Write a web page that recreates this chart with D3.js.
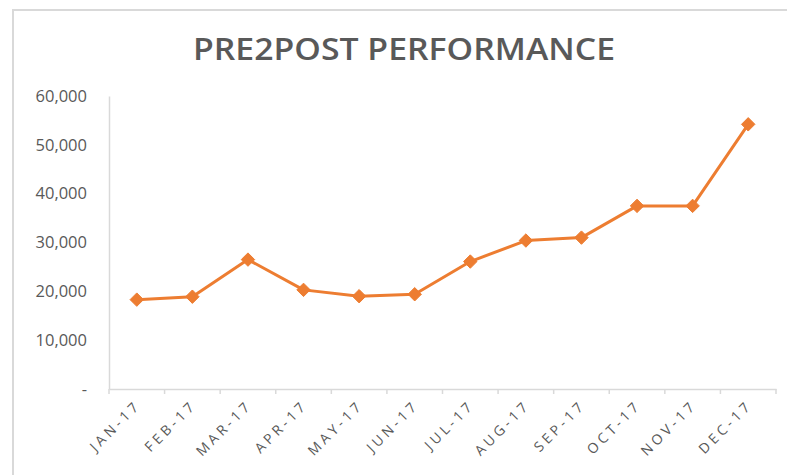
<!DOCTYPE html>
<html>
<head>
<meta charset="utf-8">
<script src="https://cdn.jsdelivr.net/npm/d3@7/dist/d3.min.js"></script>
<style>
  html, body { margin: 0; padding: 0; background: #fff; }
  svg { display: block; }
</style>
</head>
<body>
<svg id="chart" width="787" height="475"></svg>
<script>
const title = "PRE2POST PERFORMANCE";
const months = ["JAN-17","FEB-17","MAR-17","APR-17","MAY-17","JUN-17","JUL-17","AUG-17","SEP-17","OCT-17","NOV-17","DEC-17"];
const values = [18300, 18900, 26500, 20300, 19000, 19400, 26100, 30400, 31000, 37500, 37500, 54200];
const yTicks = [0, 10000, 20000, 30000, 40000, 50000, 60000];

(function () {
const svg = d3.select("#chart");
const W = 787, H = 475;
const mLeft = 109, mRight = 776, mTop = 96, mBottom = 389;
const textColor = "#595959";
const lineColor = "#ED7D31";

// chart frame
svg.append("path")
  .attr("d", `M13,${H+5} L13,10 L${W+5},10`)
  .attr("fill", "none").attr("stroke", "#d9d9d9").attr("stroke-width", 2);

// title
svg.append("text")
  .attr("x", 193).attr("y", 60)
  .attr("text-anchor", "start")
  .attr("font-family", "'Open Sans', sans-serif")
  .attr("font-weight", 600)
  .attr("font-size", 30)
  .attr("textLength", 422)
  .attr("lengthAdjust", "spacingAndGlyphs")
  .attr("fill", textColor)
  .text(title);

const x = d3.scaleBand().domain(months).range([mLeft, mRight]).paddingInner(0).paddingOuter(0);
const y = d3.scaleLinear().domain([0, 60000]).range([mBottom, mTop]);

// y axis
const yAxis = svg.append("g").attr("transform", `translate(${mLeft},0)`)
  .call(d3.axisLeft(y).tickValues(yTicks).tickSize(0).tickPadding(22)
    .tickFormat(d => d === 0 ? "-" : d3.format(",")(d)));
yAxis.select(".domain").attr("stroke", "#d9d9d9").attr("stroke-width", 1.5);
yAxis.selectAll("text")
  .attr("font-family", "'Open Sans', sans-serif")
  .attr("font-size", 16.5)
  .attr("fill", textColor);

// x axis
const xAxis = svg.append("g").attr("transform", `translate(0,${mBottom})`)
  .call(d3.axisBottom(x).tickSize(0).tickFormat(""));
xAxis.select(".domain").attr("stroke", "#d9d9d9").attr("stroke-width", 1.5);
const bounds = months.map(m => x(m)).concat([x(months[months.length-1]) + x.bandwidth()]);
xAxis.selectAll("line.bt").data(bounds).enter().append("line")
  .attr("class", "bt")
  .attr("x1", d => d).attr("x2", d => d)
  .attr("y1", 0).attr("y2", 5)
  .attr("stroke", "#d9d9d9").attr("stroke-width", 1.5);

// x labels
svg.append("g").selectAll("text").data(months).enter().append("text")
  .attr("transform", d => `translate(${x(d) + x.bandwidth()/2 + 5},${mBottom + 17}) rotate(-45)`)
  .attr("text-anchor", "end")
  .attr("font-family", "'Open Sans', sans-serif")
  .attr("font-size", 14)
  .attr("letter-spacing", 3.6)
  .attr("fill", textColor)
  .text(d => d);

// line
const cx = i => x(months[i]) + x.bandwidth()/2;
const line = d3.line().x((d, i) => cx(i)).y(d => y(d));
svg.append("path").datum(values)
  .attr("d", line)
  .attr("fill", "none")
  .attr("stroke", lineColor)
  .attr("stroke-width", 3)
  .attr("stroke-linejoin", "round");

// markers
const diamond = d3.symbol().type(d3.symbolDiamond2).size(115);
svg.append("g").selectAll("path").data(values).enter().append("path")
  .attr("d", diamond)
  .attr("transform", (d, i) => `translate(${cx(i)},${y(d)})`)
  .attr("fill", lineColor)
  .attr("stroke", lineColor).attr("stroke-width", 1);
})();
</script>
</body>
</html>
